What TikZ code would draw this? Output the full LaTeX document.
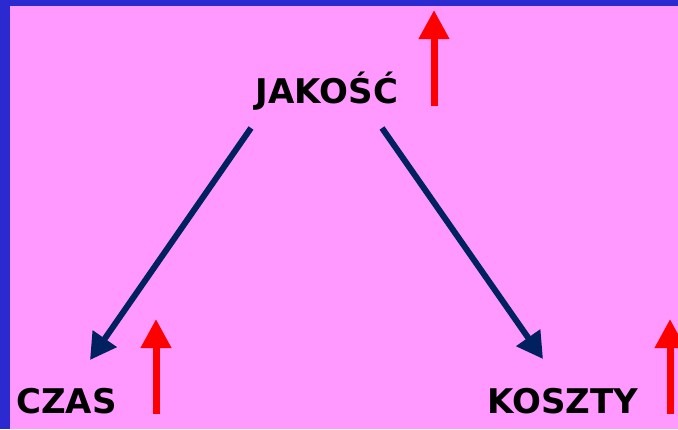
\documentclass[tikz,border=0pt]{standalone}
\usepackage{fontspec}
\setmainfont{DejaVu Sans}
\usetikzlibrary{arrows.meta}
\definecolor{bgpink}{HTML}{FF99FF}
\definecolor{edgeblue}{HTML}{2A2AD0}
\definecolor{navyarrow}{HTML}{00205F}
\tikzset{
  label text/.style={font=\bfseries\fontsize{34}{40}\selectfont, text=black, inner sep=0pt, anchor=base},
  rise arrow/.style={draw=red, line width=7pt, -{Triangle[length=29pt,width=29pt]}},
  link arrow/.style={draw=navyarrow, line width=6pt, -{Triangle[length=26pt,width=28pt]}},
}
\begin{document}
\begin{tikzpicture}[x=1pt,y=-1pt]
\useasboundingbox (0,0) rectangle (678,429);
\fill[bgpink] (0,0) rectangle (678,429);
\fill[edgeblue] (0,0) rectangle (678,6);
\fill[edgeblue] (0,0) rectangle (10,429);

\node[label text] (jakosc) at (327,103) {JAKOŚĆ};
\node[label text] (czas) at (66.5,413) {CZAS};
\node[label text] (koszty) at (563,413) {KOSZTY};

\coordinate (jl) at (251,128);
\coordinate (jr) at (382,128);
\coordinate (ct) at (90,360);
\coordinate (kt) at (543,359);
\draw[link arrow] (jl) -- (ct);
\draw[link arrow] (jr) -- (kt);

\coordinate (r1a) at (434,106);
\coordinate (r1b) at (434,10);
\coordinate (r2a) at (156,414);
\coordinate (r2b) at (156,319);
\coordinate (r3a) at (670,414);
\coordinate (r3b) at (670,319);
\draw[rise arrow] (r1a) -- (r1b);
\draw[rise arrow] (r2a) -- (r2b);
\draw[rise arrow] (r3a) -- (r3b);
\end{tikzpicture}
\end{document}
